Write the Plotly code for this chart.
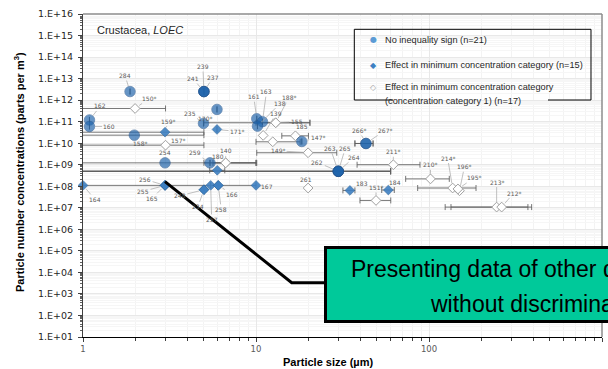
import math
import plotly.graph_objects as go

# ---------------- data ----------------
# No inequality sign (blue circles)
circ_x = [1.87, 5.0, 5.0, 5.0, 1.09, 1.09, 5.95, 4.97, 10.1, 10.9, 10.2, 1.98, 2.98, 5.42,
          29.9, 29.9, 29.9, 29.9, 18.4, 43.2, 43.2]
circ_y = [2.5e12, 2.5e12, 2.5e12, 2.5e12, 1.2e11, 6.0e10, 3.7e11, 8.3e10, 1.37e11, 1.0e11, 6.2e10,
          2.36e10, 1.22e9, 1.22e9, 4.95e8, 4.95e8, 4.95e8, 4.95e8, 1.2e10, 9.7e9, 9.7e9]
circ_xmin = [1.87, 5.0, 5.0, 5.0, 1.09, 1.09, 5.95, 4.97, 10.1, 10.9, 10.2, 0.5, 0.5, 5.42,
             0.5, 0.5, 0.5, 0.5, 18.4, 37.3, 37.3]
circ_xmax = [1.87, 5.0, 5.0, 5.0, 1.09, 1.09, 5.95, 4.97, 10.1, 10.9, 10.2, 5.0, 10.0, 5.42,
             60.0, 60.0, 60.0, 60.0, 18.4, 47.5, 47.5]
circ_lab = ["284", "239", "241", "237", "162", "160", "170*", "235", "161", "163", "138", "158*",
            "254", "259", "262", "263", "264", "265", "147*", "266*", "267*"]

# Effect in minimum concentration category (filled diamonds)
dia_x = [2.98, 5.95, 1.0, 2.98, 2.98, 2.98, 10.0, 5.0, 5.0, 5.47, 6.05, 6.05, 5.97, 34.9, 58.2]
dia_y = [3.25e10, 4.35e10, 1.1e8, 1.1e8, 1.1e8, 1.1e8, 1.1e8, 6.9e7, 6.9e7, 1.1e8, 1.1e8, 1.1e8,
         5.5e8, 6.4e7, 6.7e7]
dia_xmin = [0.5, 5.95, 1.0, 2.98, 2.98, 2.98, 0.5, 5.0, 5.0, 5.47, 6.05, 6.05, 5.4, 31.8, 53.3]
dia_xmax = [5.0, 5.95, 1.0, 2.98, 2.98, 2.98, 10.0, 5.0, 5.0, 5.47, 6.05, 6.05, 6.6, 37.3, 63.0]
dia_lab = ["159*", "171*", "164", "256", "255", "165", "167", "248", "234", "257", "258", "166",
           "", "183", "184"]

# Effect in minimum concentration category (concentration category 1) (open diamonds)
opn_x = [2.0, 3.0, 13.0, 13.0, 11.0, 12.5, 16.9, 20.0, 6.68, 6.68, 20.0, 62.2, 102, 49.4,
         137, 150, 147, 246, 263]
opn_y = [4.1e11, 8.1e9, 8.9e10, 8.9e10, 2.3e10, 1.16e10, 2.2e10, 3.6e9, 1.22e9, 1.22e9, 8.3e7,
         1.0e9, 2.2e8, 2.2e7, 8.3e7, 6.2e7, 7.5e7, 1.08e7, 1.08e7]
opn_xmin = [0.5, 0.5, 10.0, 5.0, 11.0, 10.0, 14.1, 10.1, 5.64, 5.0, 20.0, 38.4, 73.3, 39.9,
            86, 150, 147, 124, 134]
opn_xmax = [3.0, 5.0, 20.5, 20.5, 11.0, 18.0, 20.1, 29.3, 10.1, 10.0, 20.0, 88.7, 131, 60.1,
            187, 150, 147, 392, 373]
opn_lab = ["150*", "157*", "188*", "155", "139", "", "185", "149*", "180", "140", "261", "211*",
           "210*", "151*", "214*", "196*", "195*", "213*", "212*"]

x_tickvals = [1, 10, 100, 1000]
x_ticktext = ["1", "10", "100", "1000"]
y_exponents = list(range(1, 17))
y_ticktext = ["1.E+%02d" % e for e in y_exponents]

legend_names = ["No inequality sign (n=21)",
                "Effect in minimum concentration category (n=15)",
                "Effect in minimum concentration category",
                "(concentration category 1) (n=17)"]

# ---------------- styling ----------------
W, H = 608, 369
ML, MR, MT, MB = 83, 6, 14, 32
PW, PH = W - ML - MR, H - MT - MB


def px(x):
    return (x - ML) / PW


def py(y):
    return (H - MB - y) / PH


# label offsets (pixels, text centre relative to the marker)
label_off = {
    "284": (-5, -16), "239": (-1, -25), "241": (-11, -13), "237": (9, -14), "162": (11, -14),
    "160": (20, 0), "170*": (-12, 9), "235": (-13, -10), "161": (-3, -22), "163": (4, -30),
    "138": (23, -23), "158*": (6, 8), "254": (0, -10), "259": (-15, -10), "262": (-21, -9),
    "263": (-8, -23), "264": (16, -14), "265": (7, -23), "147*": (16, -4), "266*": (-7, -13),
    "267*": (19, -13), "159*": (3, -11), "171*": (20, 2), "164": (12, 14), "256": (-20, -6),
    "255": (-22, 6), "165": (-13, 13), "167": (11, 1), "248": (-24, 6), "234": (-6, 17),
    "257": (1, 34), "258": (3, 24), "166": (14, 9), "183": (12, -7), "184": (7, -8),
    "150*": (14, -10), "157*": (12, -5), "188*": (13, -25), "155": (21, -1), "139": (13, -22),
    "185": (7, -9), "149*": (-30, -2), "180": (-8, -6), "140": (0, -12), "261": (-2, -9),
    "211*": (0, -13), "210*": (0, -14), "151*": (0, -13), "214*": (-5, -30), "196*": (5, -24),
    "195*": (16, -11), "213*": (0, -25), "212*": (12, -14),
}

ebar_color = "rgba(95,95,95,0.85)"


def err(x, lo, hi):
    return dict(type="data", symmetric=False,
                array=[h - v for v, h in zip(x, hi)],
                arrayminus=[v - l for v, l in zip(x, lo)],
                color=ebar_color, thickness=1, width=3)


fig = go.Figure()

series = [
    (opn_x, opn_y, opn_xmin, opn_xmax,
     dict(symbol="diamond", size=7.5, color="white", line=dict(color="#a0a0a0", width=1))),
    (dia_x, dia_y, dia_xmin, dia_xmax,
     dict(symbol="diamond", size=7.5, color="rgb(62,128,194)", opacity=0.9,
          line=dict(color="rgb(40,95,150)", width=0.6))),
    (circ_x, circ_y, circ_xmin, circ_xmax,
     dict(symbol="circle", size=10.5, color="rgb(30,100,172)", opacity=0.68,
          line=dict(color="rgb(30,80,140)", width=0.8))),
]

# error bars (clipped to the plot area)
for xs, ys, lo, hi, _ in series:
    fig.add_trace(go.Scatter(x=xs, y=ys, mode="markers", marker=dict(size=2, opacity=0),
                             error_x=err(xs, lo, hi), showlegend=False, hoverinfo="skip",
                             cliponaxis=True))
# markers
for xs, ys, lo, hi, mk in series:
    fig.add_trace(go.Scatter(x=xs, y=ys, mode="markers", marker=mk, showlegend=False,
                             hoverinfo="skip", cliponaxis=False))

annotations = []
for xs, ys, labs, so in [(circ_x, circ_y, circ_lab, 5.5), (dia_x, dia_y, dia_lab, 5),
                         (opn_x, opn_y, opn_lab, 5)]:
    for xv, yv, lab in zip(xs, ys, labs):
        if not lab:
            continue
        dx, dy = label_off.get(lab, (0, -12))
        annotations.append(dict(
            x=math.log10(xv), y=math.log10(yv), xref="x", yref="y", text=lab,
            showarrow=True, arrowhead=0, arrowwidth=0.7, arrowcolor="#a6a6a6",
            ax=dx, ay=dy, standoff=so, startstandoff=0,
            font=dict(family="DejaVu Sans", size=6, color="#595959")))

# panel title
annotations.append(dict(x=px(95), y=py(29.5), xref="paper", yref="paper", xanchor="left",
                        yanchor="middle", showarrow=False, text="Crustacea, <i>LOEC</i>",
                        font=dict(family="Liberation Sans, Arial", size=11, color="#262626")))

# legend texts and symbols
leg_font = dict(family="Liberation Sans, Arial", size=9.2, color="#262626")
for txt, yy in zip(legend_names, [39.5, 65, 87.3, 100.5]):
    annotations.append(dict(x=px(382.5), y=py(yy), xref="paper", yref="paper", xanchor="left",
                            yanchor="middle", showarrow=False, text=txt, font=leg_font))
for sym, col, yy in [("\u25CF", "rgb(91,155,213)", 39.5), ("\u25C6", "rgb(62,128,194)", 65),
                     ("\u25C7", "#a6a6a6", 87.3)]:
    annotations.append(dict(x=px(373.3), y=py(yy), xref="paper", yref="paper",
                            xanchor="center", yanchor="middle", showarrow=False, text=sym,
                            font=dict(family="DejaVu Sans", size=8, color=col)))

# axis titles
annotations.append(dict(x=px(19), y=py(172), xref="paper", yref="paper", textangle=-90,
                        showarrow=False, xanchor="center", yanchor="middle",
                        text="<b>Particle number concentrations (parts per m<sup>3</sup>)</b>",
                        font=dict(family="Liberation Sans, Arial", size=11, color="black")))
annotations.append(dict(x=px(327.5), y=py(362), xref="paper", yref="paper",
                        showarrow=False, xanchor="center", yanchor="middle",
                        text="<b>Particle size (\u00b5m)</b>",
                        font=dict(family="Liberation Sans, Arial", size=11, color="black")))

# callout box text
box_font = dict(family="Liberation Sans, Arial", size=23, color="black")
annotations.append(dict(x=px(349), y=py(268.5), xref="paper", yref="paper", xanchor="left",
                        yanchor="middle", showarrow=False,
                        text="Presenting data of other quality", font=box_font))
annotations.append(dict(x=px(428), y=py(303.5), xref="paper", yref="paper", xanchor="left",
                        yanchor="middle", showarrow=False,
                        text="without discrimination", font=box_font))

shapes = [
    # top / right frame
    dict(type="line", xref="paper", yref="paper", x0=0, x1=1, y0=1, y1=1,
         line=dict(color="#8c8c8c", width=1.5)),
    dict(type="line", xref="paper", yref="paper", x0=1, x1=1, y0=0, y1=1,
         line=dict(color="#8c8c8c", width=1.5)),
    # legend frame (open at the bottom where the text overflows)
    dict(type="path", xref="paper", yref="paper",
         path="M %f,%f L %f,%f L %f,%f L %f,%f L %f,%f L %f,%f" % (
             px(393), py(100), px(354.3), py(100), px(354.3), py(29.3),
             px(591), py(29.3), px(591), py(100), px(548), py(100)),
         line=dict(color="black", width=1), layer="above"),
    # callout arrow
    dict(type="path", xref="paper", yref="paper",
         path="M %f,%f L %f,%f L %f,%f" % (px(165), py(181.7), px(291.7), py(282.7),
                                           px(326), py(282.7)),
         line=dict(color="black", width=3), layer="above"),
    # callout box
    dict(type="rect", xref="paper", yref="paper", x0=px(325.5), x1=px(720),
         y0=py(321.5), y1=py(247.5), fillcolor="#00c99a",
         line=dict(color="black", width=3), layer="above"),
]

minor_x = [m * 10 ** k for k in range(0, 3) for m in range(2, 10)]
minor_y = [m * 10 ** k for k in range(1, 16) for m in range(2, 10)]

fig.update_layout(
    width=W, height=H, margin=dict(l=ML, r=MR, t=MT, b=MB, pad=0),
    paper_bgcolor="white", plot_bgcolor="white",
    showlegend=False, annotations=annotations, shapes=shapes,
    xaxis=dict(type="log", range=[0, 3], tickmode="array", tickvals=x_tickvals,
               ticktext=x_ticktext, ticks="outside", ticklen=4, tickcolor="#404040",
               showline=True, linecolor="black", linewidth=1, showgrid=True,
               gridcolor="#e8e8e8", gridwidth=1, zeroline=False,
               tickfont=dict(family="DejaVu Sans", size=8.5, color="#595959"),
               minor=dict(tickmode="array", tickvals=minor_x, ticks="outside", ticklen=3,
                          tickcolor="#404040", showgrid=True, gridcolor="#f3f3f3")),
    yaxis=dict(type="log", range=[1, 16], tickmode="array",
               tickvals=[10 ** e for e in y_exponents], ticktext=y_ticktext,
               ticks="outside", ticklen=4, tickcolor="#404040", showline=True,
               linecolor="#404040", linewidth=1, showgrid=True, gridcolor="#e8e8e8",
               zeroline=False, ticklabelstandoff=3,
               tickfont=dict(family="DejaVu Sans", size=9.5, color="#262626"),
               minor=dict(tickmode="array", tickvals=minor_y, ticks="outside", ticklen=2,
                          tickcolor="#606060", showgrid=True, gridcolor="#f6f6f6")),
)

fig.write_html("out.html")
